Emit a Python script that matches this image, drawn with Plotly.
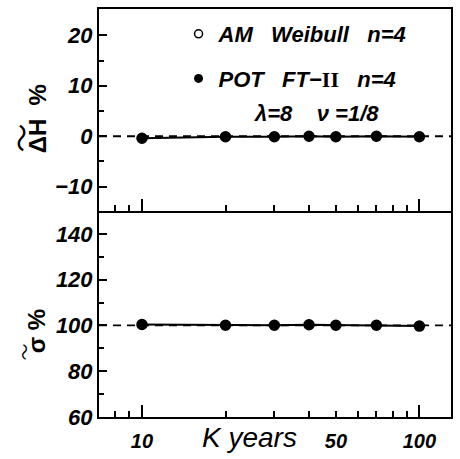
import plotly.graph_objects as go

# ---- data ----
K_years = [10, 20, 30, 40, 50, 70, 100]
dH_AM_weibull = [-0.4, -0.1, -0.1, 0.0, -0.1, 0.0, -0.1]
dH_POT_ft2 = [-0.4, -0.1, -0.1, 0.0, -0.1, 0.0, -0.1]
sigma_AM_weibull = [100.4, 100.1, 100.1, 100.3, 100.1, 100.1, 99.7]
sigma_POT_ft2 = [100.4, 100.1, 100.1, 100.3, 100.1, 100.1, 99.7]
ref_dH = 0
ref_sigma = 100
x_tick_labels = ["10", "50", "100"]
x_tick_vals = [10, 50, 100]
x_minor_vals = [8, 9, 20, 30, 40, 60, 70, 80, 90]
x_long_vals = [10, 100]
y1_ticks = [-10, 0, 10, 20]
y1_minor = [-5, 5, 15]
y2_ticks = [60, 80, 100, 120, 140]
y2_minor = [70, 90, 110, 130]
SP = "\u00a0\u00a0\u00a0"
legend_names = [
    "AM" + SP + "Weibull" + SP + "n=4",
    "POT" + SP + "FT\u2212<span style=\"font-family:'Liberation Serif';font-style:normal\">II</span>" + SP + "n=4",
]

FONT = "Liberation Sans"
W, H = 460, 459
ML, MR, MT, MB = 99, 7, 9, 42
PW, PH = W - ML - MR, H - MT - MB


def px(xp):
    return (xp - ML) / PW


def py(yp):
    return (H - MB - yp) / PH


fig = go.Figure()

# upper panel
fig.add_trace(go.Scatter(x=K_years, y=dH_AM_weibull, mode="markers", xaxis="x", yaxis="y",
                         marker=dict(symbol="circle", size=10, color="white",
                                     line=dict(color="black", width=1.5)),
                         showlegend=False))
fig.add_trace(go.Scatter(x=K_years, y=dH_POT_ft2, mode="lines+markers", xaxis="x", yaxis="y",
                         line=dict(color="black", width=2),
                         marker=dict(symbol="circle", size=10, color="black"),
                         showlegend=False))
# lower panel
fig.add_trace(go.Scatter(x=K_years, y=sigma_AM_weibull, mode="markers", xaxis="x2", yaxis="y2",
                         marker=dict(symbol="circle", size=10, color="white",
                                     line=dict(color="black", width=1.5)),
                         showlegend=False))
fig.add_trace(go.Scatter(x=K_years, y=sigma_POT_ft2, mode="lines+markers", xaxis="x2", yaxis="y2",
                         line=dict(color="black", width=2),
                         marker=dict(symbol="circle", size=10, color="black"),
                         showlegend=False))
# empty trace to activate the overlay axis with long ticks
fig.add_trace(go.Scatter(x=[], y=[], xaxis="x3", yaxis="y2", showlegend=False))

# legend entries
fig.add_trace(go.Scatter(x=[None], y=[None], mode="markers", name=legend_names[0],
                         legendgroup="a",
                         marker=dict(symbol="circle", size=8, color="white",
                                     line=dict(color="black", width=1.5))))
fig.add_trace(go.Scatter(x=[None], y=[None], mode="markers", name=legend_names[1],
                         legendgroup="b",
                         marker=dict(symbol="circle", size=9, color="black")))

xr = [0.845, 2.114]
tickfont = dict(family=FONT, size=22, color="black", weight="bold", style="italic")
common_x = dict(type="log", range=xr, showline=True, linewidth=2, linecolor="black",
                showgrid=False, zeroline=False, ticks="inside",
                tickcolor="black", tickwidth=1.5)

fig.update_layout(
    width=W, height=H,
    margin=dict(l=ML, r=MR, t=MT, b=MB),
    paper_bgcolor="white", plot_bgcolor="white",
    xaxis=dict(**common_x, mirror=True, anchor="y", domain=[0, 1], tickvals=x_long_vals,
               ticklen=12, showticklabels=False,
               minor=dict(tickvals=x_minor_vals + [50], ticklen=6, ticks="inside",
                          tickcolor="black", tickwidth=1.5)),
    xaxis2=dict(**common_x, mirror=False, anchor="y2", domain=[0, 1], tickvals=x_tick_vals,
                ticktext=x_tick_labels, ticklen=6,
                tickfont=dict(family=FONT, size=20, color="black", weight="bold", style="italic"),
                ticklabelstandoff=5,
                minor=dict(tickvals=x_minor_vals, ticklen=6, ticks="inside",
                           tickcolor="black", tickwidth=1.5)),
    xaxis3=dict(type="log", range=xr, overlaying="x2", anchor="y2", side="bottom",
                showline=False, showgrid=False, zeroline=False, ticks="inside",
                tickvals=x_long_vals, ticklen=12, tickcolor="black", tickwidth=1.5,
                showticklabels=False),
    yaxis=dict(domain=[0.505, 1], range=[-14.8, 25.2], anchor="x", showline=True, linewidth=2,
               linecolor="black", mirror=True, showgrid=False, zeroline=False,
               ticks="inside", ticklen=8, tickwidth=1.5, tickcolor="black",
               tickvals=y1_ticks, ticktext=["\u221210", "0", "10", "20"], tickfont=tickfont,
               minor=dict(tickvals=y1_minor, ticklen=5, ticks="inside", tickcolor="black",
                          tickwidth=1.5)),
    yaxis2=dict(domain=[0, 0.505], range=[60, 150], anchor="x2", showline=True, linewidth=2,
                linecolor="black", mirror=True, showgrid=False, zeroline=False,
                ticks="inside", ticklen=8, tickwidth=1.5, tickcolor="black",
                tickvals=y2_ticks, tickfont=tickfont,
                minor=dict(tickvals=y2_minor, ticklen=5, ticks="inside", tickcolor="black",
                           tickwidth=1.5)),
    legend=dict(x=px(179), y=py(13), xanchor="left", yanchor="top",
                bgcolor="rgba(0,0,0,0)", borderwidth=0, tracegroupgap=13,
                traceorder="grouped",
                font=dict(family=FONT, size=22, color="black", weight="bold", style="italic")),
    showlegend=True,
)

# dashed reference lines
fig.add_shape(type="line", xref="paper", x0=0, x1=1, yref="y", y0=ref_dH, y1=ref_dH,
              line=dict(color="black", width=1.8, dash="8px,6px"), layer="below")
fig.add_shape(type="line", xref="paper", x0=0, x1=1, yref="y2", y0=ref_sigma, y1=ref_sigma,
              line=dict(color="black", width=1.8, dash="8px,6px"), layer="below")

ann_font = dict(family=FONT, color="black", weight="bold", style="italic")
fig.add_annotation(text="\u03bb=8" + SP + "\u00a0\u03bd\u00a0=1/8", xref="paper", yref="paper",
                   x=px(253), y=py(114), xanchor="left", yanchor="middle", showarrow=False,
                   font=dict(**ann_font, size=22))
fig.add_annotation(text="K years", xref="paper", yref="paper", x=px(250), y=py(437),
                   xanchor="center", yanchor="middle", showarrow=False,
                   font=dict(family=FONT, size=28, color="black", style="italic"))
# y axis titles
fig.add_annotation(text="\u0394H\u00a0\u00a0%", xref="paper", yref="paper", x=px(37), y=py(119),
                   textangle=-90, xanchor="center", yanchor="middle", showarrow=False,
                   font=dict(family=FONT, size=24, color="black", weight="bold"))
fig.add_annotation(text="\u301c", xref="paper", yref="paper", x=px(20), y=py(138),
                   textangle=-90, xanchor="center", yanchor="middle", showarrow=False,
                   font=dict(family="Noto Sans CJK JP", size=29, color="black"))
fig.add_annotation(text="\u301c", xref="paper", yref="paper", x=px(23), y=py(352),
                   textangle=-90, xanchor="center", yanchor="middle", showarrow=False,
                   font=dict(family="Noto Sans CJK JP", size=17, color="black"))
fig.add_annotation(text="\u03c3\u00a0%", xref="paper", yref="paper", x=px(36), y=py(331),
                   textangle=-90, xanchor="center", yanchor="middle", showarrow=False,
                   font=dict(family=FONT, size=24, color="black", weight="bold"))

fig.write_html("out.html")
